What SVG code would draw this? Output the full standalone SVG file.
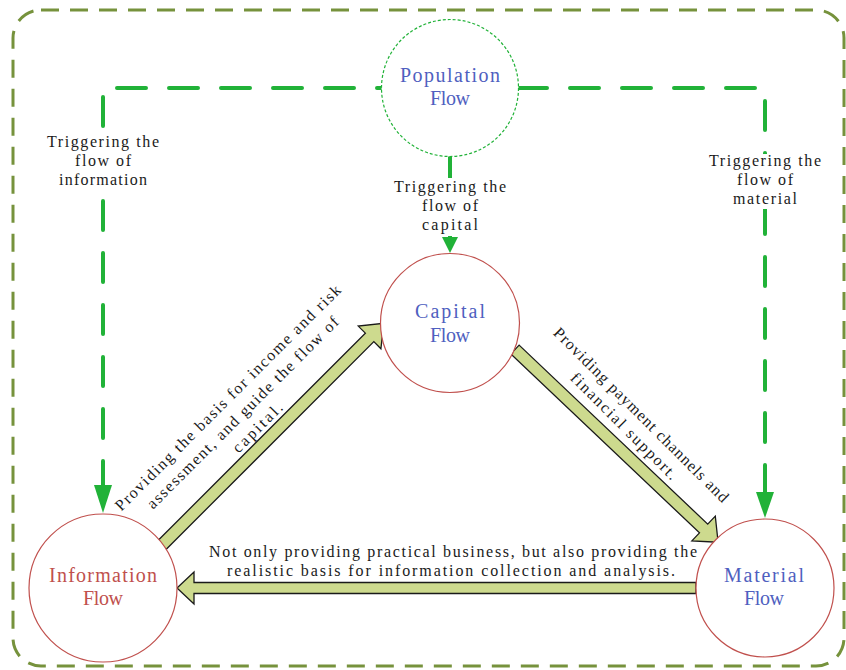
<svg xmlns="http://www.w3.org/2000/svg" width="846" height="670" viewBox="0 0 846 670">
  <style>
    .frame { fill: none; stroke: #76923c; stroke-width: 3; stroke-dasharray: 18 11; }
    .node { fill: #ffffff; stroke: #c0504d; stroke-width: 1.2; }
    .pop { fill: #ffffff; stroke: #21b238; stroke-width: 1.2; stroke-dasharray: 3 2; }
    .flow { fill: none; stroke: #21b238; stroke-width: 4; stroke-linecap: round; stroke-dasharray: 29 23; }
    .head { fill: #21b238; }
    .block { fill: #cdda8e; stroke: #1a1a1a; stroke-width: 1.3; stroke-linejoin: miter; }
    .lbl { font-family: "Liberation Serif", "Times New Roman", serif; font-size: 16px; fill: #1a1a1a; text-anchor: middle; }
    .ttl { font-family: "Liberation Serif", "Times New Roman", serif; font-size: 20px; text-anchor: middle; }
    .blue { fill: #4f5fc0; }
    .red { fill: #c0504d; }
    .bg { fill: #ffffff; }
  </style>

  <!-- outer dashed frame -->
  <rect class="frame" x="13" y="10" width="831" height="656" rx="28" ry="28"/>

  <g id="connectors">
    <!-- trigger lines from the population node -->
    <path class="flow" d="M103,88 H382" stroke-dashoffset="38"/>
    <path class="flow" d="M103,88 V486" stroke-dashoffset="43"/>
    <path class="flow" d="M765,88 H518" stroke-dashoffset="42"/>
    <path class="flow" d="M765,88 V492" stroke-dashoffset="39"/>
    <path class="flow" d="M450,157 V238"/>
    <polygon class="head" points="94,485 112,485 103,513"/>
    <polygon class="head" points="756,492 774,492 765,518"/>
    <polygon class="head" points="442,237 458,237 450,253"/>

    <!-- label backgrounds over the trigger lines -->
    <rect class="bg" x="90" y="130" width="26" height="62"/>
    <rect class="bg" x="752" y="154" width="26" height="55"/>
    <rect class="bg" x="437" y="178" width="26" height="58"/>

    <text class="lbl"><tspan x="103" y="147" textLength="112" lengthAdjust="spacing">Triggering the</tspan><tspan x="103" y="166" textLength="56" lengthAdjust="spacing">flow of</tspan><tspan x="103" y="185" textLength="88" lengthAdjust="spacing">information</tspan></text>
    <text class="lbl"><tspan x="765" y="166" textLength="112" lengthAdjust="spacing">Triggering the</tspan><tspan x="765" y="185" textLength="56" lengthAdjust="spacing">flow of</tspan><tspan x="765" y="204" textLength="64" lengthAdjust="spacing">material</tspan></text>
    <text class="lbl"><tspan x="450" y="192" textLength="112" lengthAdjust="spacing">Triggering the</tspan><tspan x="450" y="211" textLength="56" lengthAdjust="spacing">flow of</tspan><tspan x="450" y="230" textLength="56" lengthAdjust="spacing">capital</tspan></text>

    <!-- block arrows between the three flows -->
    <polygon class="block" transform="translate(161,546) rotate(-45)" points="0,-6 295,-6 295,-16 315,0 295,16 295,6 0,6"/>
    <polygon class="block" transform="translate(515,349.5) rotate(43.5)" points="0,-6 260,-6 260,-17 280,0 260,17 260,6 0,6"/>
    <polygon class="block" points="696,582.5 194,582.5 194,572 177,588 194,604 194,593.5 696,593.5"/>

    <g transform="translate(228,398) rotate(-45)">
      <text class="lbl"><tspan x="0" y="5" textLength="312" lengthAdjust="spacing">Providing the basis for income and risk</tspan><tspan x="0" y="26" textLength="264" lengthAdjust="spacing">assessment, and guide the flow of</tspan><tspan x="0" y="47" textLength="64" lengthAdjust="spacing">capital.</tspan></text>
    </g>
    <g transform="translate(641,415) rotate(45)">
      <text class="lbl"><tspan x="0" y="5" textLength="240" lengthAdjust="spacing">Providing payment channels and</tspan><tspan x="-4" y="25" textLength="144" lengthAdjust="spacing">financial support.</tspan></text>
    </g>
    <text class="lbl"><tspan x="453" y="557" textLength="488" lengthAdjust="spacing">Not only providing practical business, but also providing the</tspan><tspan x="451" y="576" textLength="448" lengthAdjust="spacing">realistic basis for information collection and analysis.</tspan></text>
  </g>

  <g id="population-flow">
    <circle class="pop" cx="450" cy="88" r="68.5"/>
    <text class="ttl blue"><tspan x="450" y="82" textLength="100" lengthAdjust="spacing">Population</tspan><tspan x="450" y="105" textLength="40" lengthAdjust="spacing">Flow</tspan></text>
  </g>

  <g id="capital-flow">
    <circle class="node" cx="450" cy="323" r="69.5"/>
    <text class="ttl blue"><tspan x="450" y="318" textLength="70" lengthAdjust="spacing">Capital</tspan><tspan x="450" y="342" textLength="40" lengthAdjust="spacing">Flow</tspan></text>
  </g>

  <g id="information-flow">
    <circle class="node" cx="103" cy="588" r="74"/>
    <text class="ttl red"><tspan x="103" y="582" textLength="108" lengthAdjust="spacing">Information</tspan><tspan x="103" y="605" textLength="40" lengthAdjust="spacing">Flow</tspan></text>
  </g>

  <g id="material-flow">
    <circle class="node" cx="765" cy="588" r="69"/>
    <text class="ttl blue"><tspan x="764" y="582" textLength="80" lengthAdjust="spacing">Material</tspan><tspan x="764" y="605" textLength="40" lengthAdjust="spacing">Flow</tspan></text>
  </g>
</svg>
